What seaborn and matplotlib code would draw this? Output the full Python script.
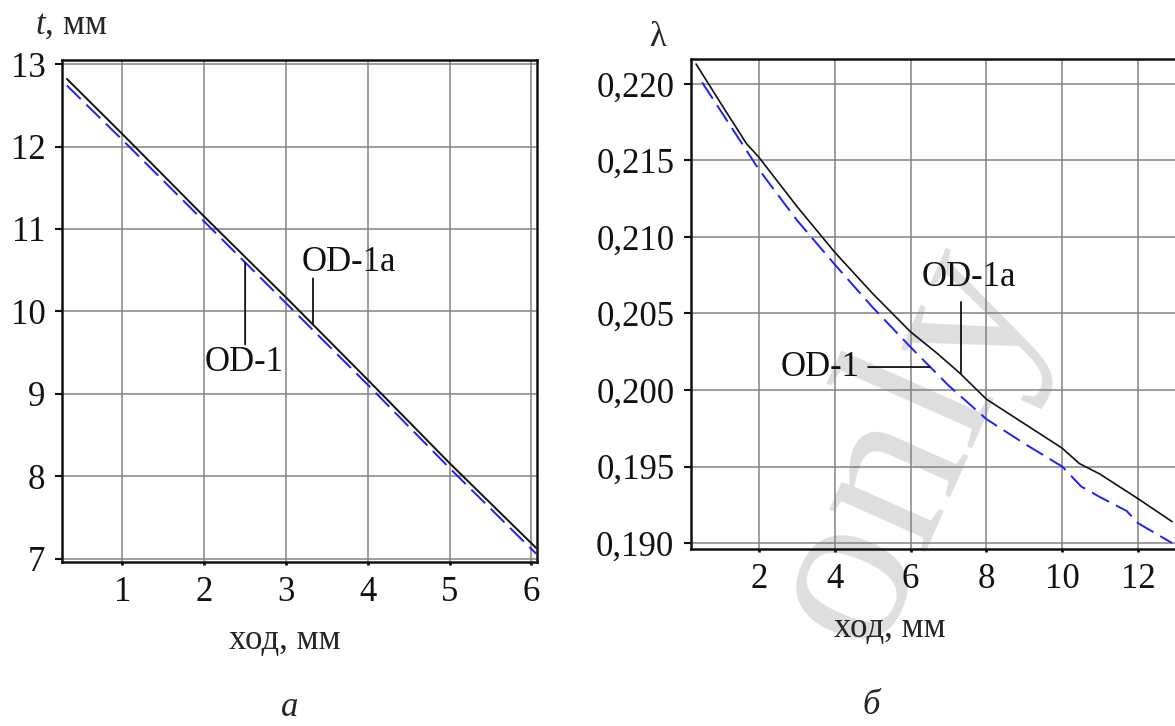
import numpy as np
import pandas as pd
import seaborn as sns
import matplotlib
matplotlib.use("Agg")
import matplotlib.pyplot as plt

# ---------------- data ----------------
# panel a: thickness t (mm) vs stroke (mm)
stroke_a = [0.32, 1, 2, 3, 4, 5, 6.06]
t_od1a = [12.82, 12.15, 11.15, 10.17, 9.17, 8.16, 7.13]
t_od1 = [12.74, 12.08, 11.09, 10.10, 9.11, 8.10, 7.06]

# panel b: lambda vs stroke (mm)
stroke_b_od1a = [0.34, 1, 1.67, 2, 3, 4, 5, 6, 6.7, 7.3, 8, 9, 10, 10.45, 11, 12, 12.9]
lam_od1a = [0.2213, 0.2187, 0.2161, 0.2152, 0.2120, 0.2090, 0.2063, 0.2038, 0.2024,
            0.2011, 0.1994, 0.1978, 0.1962, 0.1952, 0.1945, 0.1929, 0.1914]
stroke_b_od1 = [0.5, 1, 2, 3, 4, 5, 6, 7, 8, 9, 10, 10.5, 11, 11.7, 12, 12.9]
lam_od1 = [0.2201, 0.2182, 0.2144, 0.2111, 0.2082, 0.2054, 0.2028, 0.2003, 0.1981,
           0.1965, 0.1950, 0.1937, 0.1930, 0.1921, 0.1913, 0.1900]

xticks_a = [1, 2, 3, 4, 5, 6]
yticks_a = [7, 8, 9, 10, 11, 12, 13]
xticks_b = [2, 4, 6, 8, 10, 12]
yticks_b = [0.190, 0.195, 0.200, 0.205, 0.210, 0.215, 0.220]
yticklabels_b = ["0,190", "0,195", "0,200", "0,205", "0,210", "0,215", "0,220"]

# ---------------- style ----------------
sns.set_style("white")
plt.rcParams['font.family'] = ['Liberation Serif', 'DejaVu Serif']
plt.rcParams['mathtext.fontset'] = 'custom'
plt.rcParams['mathtext.rm'] = 'Liberation Serif'
plt.rcParams['mathtext.it'] = 'Liberation Serif:italic'

W, H = 1175, 726
fig = plt.figure(figsize=(W / 100, H / 100), dpi=100)


def px_axes(l, t, r, b):
    return fig.add_axes([l / W, 1 - b / H, (r - l) / W, (b - t) / H])


BLACK = '#111111'
BLUE = '#1f1fff'
GRID = '#828282'
TICK_FS = 25
LAB_FS = 25
ANN_FS = 25

axA = px_axes(62, 60, 537, 562)
axB = px_axes(691, 59, 1177, 549)

for ax in (axA, axB):
    ax.set_axisbelow(True)
    ax.grid(True, color=GRID, lw=1.1)
    for s in ax.spines.values():
        s.set_color(BLACK)
        s.set_linewidth(1.8)
    ax.tick_params(axis='y', direction='out', length=5, width=1.5, pad=7,
                   labelsize=TICK_FS, colors=BLACK, left=True)
    ax.tick_params(axis='x', direction='out', length=2, width=2, pad=8,
                   labelsize=TICK_FS, colors=BLACK, bottom=True)

# ---- panel a ----
sns.lineplot(x=stroke_a, y=t_od1, ax=axA, color=BLUE, lw=1.4, linestyle='--')
axA.lines[-1].set_dashes([10, 4])
sns.lineplot(x=stroke_a, y=t_od1a, ax=axA, color=BLACK, lw=1.4)
axA.set_xlim(0.26, 6.07)
axA.set_ylim(6.96, 13.05)
axA.set_xticks(xticks_a)
axA.set_yticks(yticks_a)
axA.set_xticklabels([str(v) for v in xticks_a])
axA.set_yticklabels([str(v) for v in yticks_a])

axA.set_xlabel('ход, мм', fontsize=LAB_FS)
axA.xaxis.label.set_va('center')
axA.xaxis.set_label_coords((285 - 62) / 475, (562 - 641) / 502)
axA.set_ylabel('$t$, мм', fontsize=LAB_FS, rotation=0, ha='left', va='center')
axA.yaxis.set_label_coords((35 - 62) / 475, (562 - 25) / 502)

axA.annotate('', xy=(3.33, 9.85), xytext=(3.33, 10.40),
             arrowprops=dict(arrowstyle='-', color=BLACK, lw=1.3, shrinkA=0, shrinkB=0))
axA.text(3.77, 10.59, 'OD-1a', fontsize=ANN_FS, ha='center', va='center', color=BLACK)
axA.annotate('', xy=(2.50, 10.59), xytext=(2.50, 9.60),
             arrowprops=dict(arrowstyle='-', color=BLACK, lw=1.3, shrinkA=0, shrinkB=0))
axA.text(2.49, 9.38, 'OD-1', fontsize=ANN_FS, ha='center', va='center', color=BLACK)

# ---- panel b ----
sns.lineplot(x=stroke_b_od1, y=lam_od1, ax=axB, color=BLUE, lw=1.4, linestyle='--')
axB.lines[-1].set_dashes([10, 4])
sns.lineplot(x=stroke_b_od1a, y=lam_od1a, ax=axB, color=BLACK, lw=1.2)
axB.set_xlim(0.206, 13.03)
axB.set_ylim(0.18961, 0.22163)
axB.set_xticks(xticks_b)
axB.set_yticks(yticks_b)
axB.set_xticklabels([str(v) for v in xticks_b])
axB.set_yticklabels(yticklabels_b)
axB.spines['right'].set_visible(False)

axB.set_xlabel('ход, мм', fontsize=LAB_FS)
axB.xaxis.label.set_va('center')
axB.xaxis.set_label_coords((890 - 691) / 486, (549 - 628) / 490)
axB.set_ylabel('λ', fontsize=LAB_FS, rotation=0, ha='center', va='center')
axB.yaxis.set_label_coords((658 - 691) / 486, (549 - 38) / 490)

axB.annotate('', xy=(7.33, 0.20111), xytext=(7.33, 0.20575),
             arrowprops=dict(arrowstyle='-', color=BLACK, lw=1.3, shrinkA=0, shrinkB=0))
axB.text(7.54, 0.20732, 'OD-1a', fontsize=ANN_FS, ha='center', va='center', color=BLACK)
axB.annotate('', xy=(6.51, 0.2015), xytext=(4.88, 0.2015),
             arrowprops=dict(arrowstyle='-', color=BLACK, lw=1.3, shrinkA=0, shrinkB=0))
axB.text(3.61, 0.2015, 'OD-1', fontsize=ANN_FS, ha='center', va='center', color=BLACK)

# watermark
axB.text((905 - 691) / 486, (549 - 445) / 490, 'only', transform=axB.transAxes,
         fontsize=165, rotation=66, color='#dedede', ha='center', va='center',
         zorder=0.1, clip_on=False)

# panel captions
fig.text(290 / W, 1 - 708 / H, 'а', fontsize=25, style='italic', ha='center', va='center')
fig.text(871 / W, 1 - 706 / H, 'б', fontsize=25, style='italic', ha='center', va='center')

fig.savefig('out.png', dpi=100)
